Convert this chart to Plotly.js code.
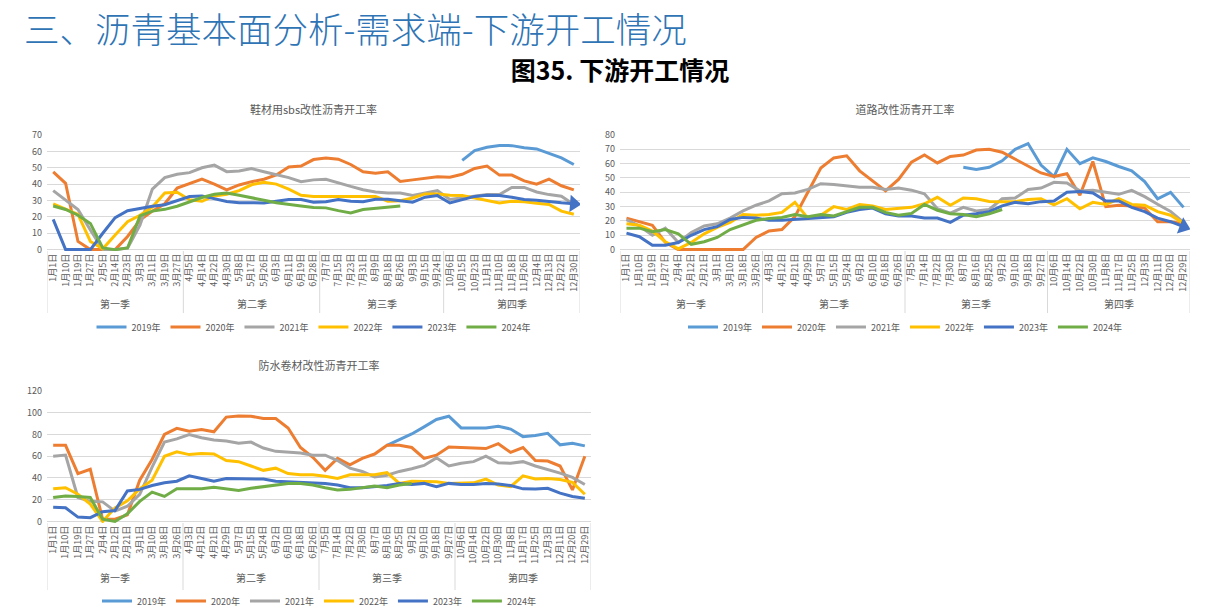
<!DOCTYPE html>
<html><head><meta charset="utf-8">
<script src="https://cdn.plot.ly/plotly-3.0.1.min.js"></script>
<style>
body{margin:0;width:1208px;height:614px;background:#fff;overflow:hidden;position:relative;font-family:"Noto Sans CJK SC","Noto Sans",sans-serif;}
#h1{position:absolute;left:24px;top:6px;font-size:35.5px;line-height:44px;color:#2F75B5;font-weight:300;white-space:nowrap;}
#h2{position:absolute;left:0;width:1240px;top:52px;line-height:34px;text-align:center;font-size:25px;font-weight:bold;color:#000;white-space:nowrap;}
.c{position:absolute;}
</style></head>
<body>
<div id="h1">三、沥青基本面分析-需求端-下游开工情况</div>
<div id="h2">图35. 下游开工情况</div>
<div id="c1" class="c" style="left:0;top:95px;width:600px;height:250px"></div>
<div id="c2" class="c" style="left:600px;top:95px;width:608px;height:250px"></div>
<div id="c3" class="c" style="left:0;top:350px;width:608px;height:264px"></div>
<script>
const seriesNames = ['2019年','2020年','2021年','2022年','2023年','2024年'];
const seriesColors = ['#5B9BD5','#ED7D31','#A5A5A5','#FFC000','#4472C4','#70AD47'];
const quarterNames = ['第一季','第二季','第三季','第四季'];

// ---- 鞋材用sbs改性沥青开工率 ----
const shoeTitle = '鞋材用sbs改性沥青开工率';
const shoeDates = ['1月1日','1月10日','1月19日','1月27日','2月5日','2月14日','2月23日','3月3日','3月11日','3月19日','3月27日',
 '4月5日','4月14日','4月22日','4月30日','5月8日','5月17日','5月26日','6月3日','6月11日','6月19日','6月28日',
 '7月7日','7月15日','7月23日','7月31日','8月9日','8月18日','8月26日','9月3日','9月15日','9月24日',
 '10月6日','10月15日','10月23日','11月1日','11月10日','11月18日','11月26日','12月4日','12月13日','12月22日','12月30日'];
const shoeQuarterCounts = [11,11,10,11];
const shoe2019 = [null,null,null,null,null,null,null,null,null,null,null,
 null,null,null,null,null,null,null,null,null,null,null,
 null,null,null,null,null,null,null,null,null,null,
 null,54.5,60.5,62.5,63.6,63.5,62.2,61.5,58.6,56,52];
const shoe2020 = [47.5,40.5,5,0,0,0,8,18,23.5,28,37.6,
 40.5,43,40,36.5,39.5,41.5,43,45.6,50.5,51,55,
 56,55.2,52,47.5,46.6,47.5,41.6,42.6,43.5,44.5,
 44.2,46,49.6,51,45.5,45.5,42,40,43,39,36.5];
const shoe2021 = [36,30,24.5,12,0,0,1,15,37,44,46,
 47,50,51.6,47.6,48,49.5,47.6,46,44,41.5,42.6,
 43,40.6,38.6,36.6,35.2,34.6,34.6,33,34.6,36,
 30.6,31.6,33,33.6,33.6,38,38,35.2,33.6,32.6,27.6];
const shoe2022 = [28,25,21.5,5,0.5,9,17,21,26,34.6,35,
 30.5,29.5,32.8,33.8,36,39.6,41.2,40,37,33.2,32.5,
 32.5,32.6,32.6,32.6,32.5,29.6,29.8,31.5,34,34,
 33.2,33,31.5,30.3,28.5,29.6,29.2,28.3,27.6,23.5,21.6];
const shoe2023 = [18.5,0,0,0,10,19.5,23.8,25.3,26.5,27.4,29.8,
 32.4,32.8,31,29.4,28.7,28.4,28.5,29.6,30.6,30.6,29,
 29.3,30.6,29.5,29.2,30.8,30.8,29.8,29,32,33,
 28.5,30.5,32.5,33.2,33,32,30.6,30.2,29.2,28.6,28];
const shoe2024 = [26.6,24.5,21,16,1,0,1,20.6,23.5,24.6,26.5,
 29,31.8,33.8,34.6,33.2,31.5,30.2,28.6,27.5,26.7,25.8,
 25.5,23.8,22.4,24.5,25.2,26,26.7,null,null,null,
 null,null,null,null,null,null,null,null,null,null,null];

// ---- 道路改性沥青开工率 ----
const roadTitle = '道路改性沥青开工率';
const roadDates = ['1月1日','1月10日','1月19日','1月27日','2月4日','2月12日','2月21日','3月1日','3月10日','3月18日','3月26日',
 '4月3日','4月12日','4月21日','4月29日','5月7日','5月15日','5月24日','6月2日','6月10日','6月18日','6月26日',
 '7月5日','7月14日','7月22日','7月30日','8月7日','8月16日','8月25日','9月2日','9月10日','9月18日','9月27日',
 '10月6日','10月14日','10月22日','10月30日','11月8日','11月17日','11月25日','12月3日','12月11日','12月20日','12月29日'];
const roadQuarterCounts = [11,11,11,11];
const road2019 = [null,null,null,null,null,null,null,null,null,null,null,
 null,null,null,null,null,null,null,null,null,null,null,
 null,null,null,null,57.5,56,57.5,62,70,74,59,
 51,70,60,64,61.5,58,55,47.5,35.5,40,29.5];
const road2020 = [22,19.5,17,5,0,0,0,0,0,0,8.5,
 13,14,23,40,57,64,65.5,55,48,41,49,
 61,66,60.5,65,66,69.5,70,68,63,58,53.5,
 51,53,38,61.5,30,31,30.5,29,19.5,19.5,18];
const road2021 = [21,16.5,10,15,5,12,16.5,18,22,27,31,
 34,39,39.5,42,46,45.5,44.5,43.5,43.5,42,43,
 41.5,39,28.5,25.5,29.5,27,28,35.5,36,42,43,
 47,46.5,41,41.4,40,38.6,41.4,37,31.7,26.7,19];
const road2022 = [18,17,13,5.5,0.5,5,11,15.5,19,24.5,24,
 24.5,26,33,22,24,30,28,31.5,30.5,28,28.5,
 29.5,32,36.5,31,36,35.5,33.6,33.5,33.5,35,35.5,
 31.3,35.5,28.5,33,31.5,35.5,31.5,31,26.5,24,18.5];
const road2023 = [11.5,9,3,3,5,10,14,16,21,22.5,22,
 20.5,20.5,21,21.5,22,23,26,28,29,25,23.5,
 23.5,22,22,19,24,25,26.5,30.5,33,32,33.5,
 34,40,40.5,39.5,34,34,29.5,26.5,22,19.5,16];
const road2024 = [15,15,12.5,14,11,3.7,5.5,8.5,14,17.5,20.5,
 21.7,22.5,24.5,23,24.5,23.5,26.5,29.5,29.5,26,24,
 25.3,31.5,27.5,25,24.5,23,25,28,null,null,null,
 null,null,null,null,null,null,null,null,null,null,null];

// ---- 防水卷材改性沥青开工率 ----
const roofTitle = '防水卷材改性沥青开工率';
const roofDates = ['1月1日','1月10日','1月19日','1月27日','2月4日','2月12日','2月21日','3月1日','3月10日','3月18日','3月26日',
 '4月3日','4月12日','4月21日','4月29日','5月7日','5月15日','5月24日','6月2日','6月10日','6月18日','6月26日',
 '7月5日','7月14日','7月22日','7月30日','8月7日','8月16日','8月25日','9月2日','9月10日','9月18日','9月27日',
 '10月6日','10月14日','10月22日','10月30日','11月8日','11月17日','11月25日','12月3日','12月11日','12月20日','12月29日'];
const roofQuarterCounts = [11,11,11,11];
const roof2019 = [null,null,null,null,null,null,null,null,null,null,null,
 null,null,null,null,null,null,null,null,null,null,null,
 null,null,null,null,null,70,75.5,80.5,87,93.8,96.8,
 86,86,86,87.5,85,78,79,81,70.5,72,69.5];
const roof2020 = [70,70,44,48,2,2,6,38,57,80,85.6,
 83,84.5,82.5,96,97,96.8,94.7,94.7,86,68,59,
 47,58,52,58,62,70,70,68,58,61,68.5,
 68,67,67,71.5,63.5,68,56,55.5,51,29,60];
const roof2021 = [60,61,22,18.5,18,9.5,14,25,50,73,76,
 80,77,75,74,72,73,67.5,64.5,64,63,61,
 61,56,49,46,41,42.5,46,48.5,51.5,58.5,51,
 53.5,55,60,54,53.5,55,51,48,44.5,40.5,34];
const roof2022 = [30,31,25,16,0,12.5,19,30,38,60,64,
 61.5,62.5,62,56,55,51,47,49,44,43,43,
 41.5,39.5,43,43,43,45,35,37,37,36.5,35,
 35,35.5,39,33.5,32,42,39,39.5,38.5,36,25];
const roof2023 = [13,12.5,4,3.5,9,10,28,29.5,33,35.5,37,
 42,39.5,37,39.5,39.5,39.5,39,37,36.5,36,36,
 35,33.5,31,31,32,33,35,34,35,32,35,
 34,34,35,34.5,33,30,29.8,30.5,26,23,21.4];
const roof2024 = [22,23.5,23,22,2,0,7,18.5,27,23,30,
 30,30,31.5,30,28.5,30.5,32,33.5,35,35,33.5,
 31,29,29.5,31,32.5,31,33.5,35,null,null,null,
 null,null,null,null,null,null,null,null,null,null,null];

const FONT = '"Noto Sans CJK SC","Microsoft YaHei",sans-serif';
const TXT = '#595959';
const GRID = '#D9D9D9';

function buildChart(id, cfg){
  const n = cfg.dates.length;
  const plotTop = cfg.t, plotBottom = cfg.h - cfg.b, plotH = plotBottom - plotTop;
  const py = px => (plotBottom - px) / plotH;
  const traces = cfg.series.map((vals, k) => {
    const tr = {
      type:'scatter', mode:'lines', name: seriesNames[k], x: cfg.dates, y: vals,
      line:{color: seriesColors[k], width:3}, connectgaps:false, hoverinfo:'skip'
    };
    if (cfg.arrowIndex === k){
      let last = -1; vals.forEach((v,i)=>{ if(v!==null) last=i; });
      tr.mode = 'lines+markers';
      tr.marker = {
        color: seriesColors[k], opacity: 1,
        symbol: vals.map((v,i)=> i===last ? 'triangle-up' : 'circle'),
        size: vals.map((v,i)=> i===last ? 15 : 0),
        angleref:'previous', line:{width:0}
      };
    }
    return tr;
  });
  const shapes = [], annotations = [];
  let cum = 0;
  const bounds = [-0.5];
  cfg.quarterCounts.forEach((c, qi) => {
    annotations.push({x: cum + (c-1)/2, xref:'x', y: py(cfg.qLabelY), yref:'paper', yanchor:'middle',
      text: quarterNames[qi], showarrow:false, font:{family:FONT, size:10, color:TXT}});
    cum += c;
    bounds.push(cum - 0.5);
  });
  bounds.forEach(b => shapes.push({type:'line', xref:'x', yref:'paper', x0:b, x1:b, y0:0, y1:py(cfg.sepBottom),
    line:{color:GRID, width:1}, layer:'below'}));
  const layout = {
    width: cfg.w, height: cfg.h,
    margin:{l:cfg.l, r:cfg.r, t:cfg.t, b:cfg.b, pad:0, autoexpand:false},
    paper_bgcolor:'#fff', plot_bgcolor:'#fff',
    font:{family:FONT, color:TXT},
    title:{text: cfg.title, font:{family:FONT, size:11, color:TXT}, xref:'paper', x:0.5, xanchor:'center',
      yref:'container', y: 1 - cfg.titleY/cfg.h, yanchor:'middle'},
    xaxis:{type:'category', range:[-0.5, n-0.5], tickmode:'array', tickvals: cfg.dates, ticktext: cfg.dates,
      tickangle:-90, tickfont:{family:FONT, size:9, color:TXT}, showgrid:false, showline:false, zeroline:false,
      ticks:'', fixedrange:true},
    yaxis:{range:[-cfg.ymax*0.012, cfg.ymax], tick0:0, dtick: cfg.dtick, showgrid:true, gridcolor:GRID, gridwidth:1,
      zeroline:true, zerolinecolor:GRID, zerolinewidth:1, showline:false, ticks:'',
      tickfont:{family:FONT, size:9, color:TXT}, ticklabelstandoff:4, fixedrange:true},
    showlegend:true,
    legend:{orientation:'h', x:0.5, xanchor:'center', xref:'paper', y: py(cfg.legendY), yanchor:'middle',
      font:{family:FONT, size:9, color:TXT}, itemwidth:30,
      traceorder:'normal', bgcolor:'rgba(0,0,0,0)'},
    shapes, annotations
  };
  Plotly.newPlot(id, traces, layout, {staticPlot:true, displayModeBar:false});
}

buildChart('c1', {title: shoeTitle, dates: shoeDates, quarterCounts: shoeQuarterCounts,
  series:[shoe2019,shoe2020,shoe2021,shoe2022,shoe2023,shoe2024], arrowIndex:4,
  w:600, h:250, l:47, r:20, t:40, b:94, ymax:70, dtick:10,
  titleY:15, qLabelY:208, sepBottom:218, legendY:232});
buildChart('c2', {title: roadTitle, dates: roadDates, quarterCounts: roadQuarterCounts,
  series:[road2019,road2020,road2021,road2022,road2023,road2024], arrowIndex:4,
  w:608, h:250, l:20, r:18, t:40, b:94, ymax:80, dtick:10,
  titleY:15, qLabelY:208, sepBottom:218, legendY:232});
buildChart('c3', {title: roofTitle, dates: roofDates, quarterCounts: roofQuarterCounts,
  series:[roof2019,roof2020,roof2021,roof2022,roof2023,roof2024], arrowIndex:-1,
  w:608, h:264, l:47, r:17, t:41, b:91, ymax:120, dtick:20,
  titleY:16, qLabelY:227, sepBottom:240, legendY:251});
</script>
</body></html>
